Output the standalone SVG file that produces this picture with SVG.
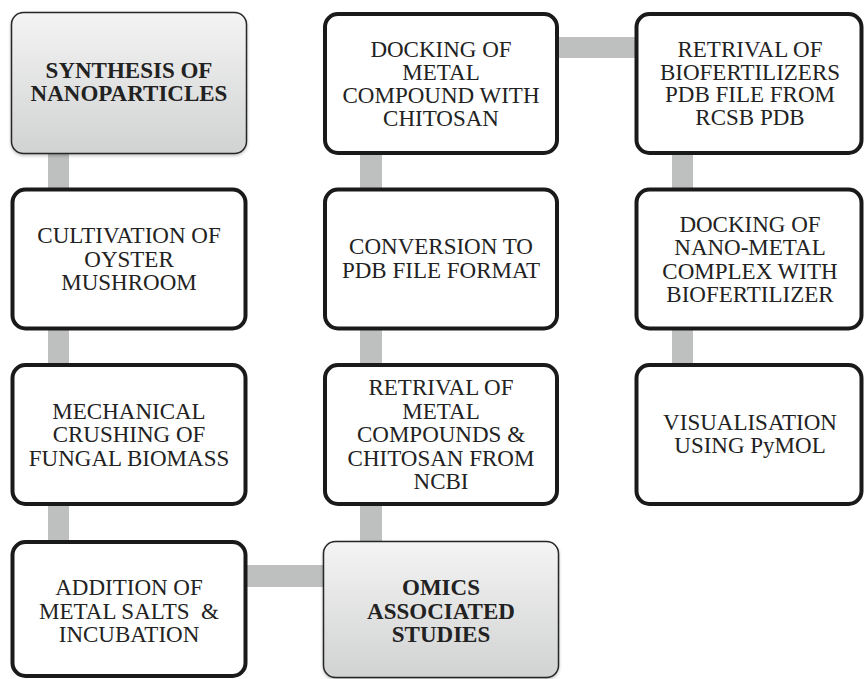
<svg xmlns="http://www.w3.org/2000/svg" width="865" height="679" viewBox="0 0 865 679">
<defs>
<linearGradient id="g" x1="0" y1="0" x2="0" y2="1">
<stop offset="0" stop-color="#f4f4f4"/>
<stop offset="1" stop-color="#d1d2d2"/>
</linearGradient>
<filter id="sh" x="-5%" y="-5%" width="110%" height="110%">
<feDropShadow dx="0" dy="1.5" stdDeviation="1.5" flood-color="#000" flood-opacity="0.25"/>
</filter>
<style>
.conn{fill:#bebfbf}
.box{fill:#fff;stroke:#1a1a1a;stroke-width:4}
.gbox{fill:url(#g);stroke:#262626;stroke-width:1.5;filter:url(#sh)}
.t{font-size:23px;fill:#222;text-anchor:middle}
.b{font-weight:bold}
</style>
</defs>
<rect width="865" height="679" fill="#fff"/>
<g id="connectors">
<rect class="conn" x="48" y="150" width="21" height="42"/>
<rect class="conn" x="48" y="326" width="21" height="40"/>
<rect class="conn" x="48" y="502" width="21" height="42"/>
<rect class="conn" x="243" y="565" width="84" height="22"/>
<rect class="conn" x="360" y="151" width="22" height="41"/>
<rect class="conn" x="360" y="326" width="22" height="41"/>
<rect class="conn" x="360" y="502" width="22" height="42"/>
<rect class="conn" x="555" y="37" width="84" height="21"/>
<rect class="conn" x="672" y="150" width="21" height="42"/>
<rect class="conn" x="672" y="326" width="21" height="41"/>
</g>
<g class="t" font-family="Liberation Serif, serif">
<g id="synthesis">
<rect class="gbox" x="11.5" y="12.5" width="235" height="141" rx="12"/>
<text class="b" x="129" y="78">SYNTHESIS OF</text>
<text class="b" x="129" y="101">NANOPARTICLES</text>
</g>
<g id="cultivation">
<rect class="box" x="12.5" y="189.5" width="233" height="139" rx="13"/>
<text x="129" y="243">CULTIVATION OF</text>
<text x="129" y="266.5">OYSTER</text>
<text x="129" y="290">MUSHROOM</text>
</g>
<g id="mechanical">
<rect class="box" x="12.5" y="365" width="233" height="139" rx="13"/>
<text x="129" y="418.5">MECHANICAL</text>
<text x="129" y="442">CRUSHING OF</text>
<text x="129" y="465.5">FUNGAL BIOMASS</text>
</g>
<g id="addition">
<rect class="box" x="12.5" y="542" width="233" height="134" rx="13"/>
<text x="129" y="595">ADDITION OF</text>
<text x="129" y="618.5" xml:space="preserve">METAL SALTS  &amp;</text>
<text x="129" y="642">INCUBATION</text>
</g>
<g id="omics">
<rect class="gbox" x="323.5" y="541.5" width="235" height="136" rx="12"/>
<text class="b" x="441" y="595">OMICS</text>
<text class="b" x="441" y="618.5">ASSOCIATED</text>
<text class="b" x="441" y="642">STUDIES</text>
</g>
<g id="retrival-metal">
<rect class="box" x="325" y="365" width="232" height="139" rx="13"/>
<text x="441" y="395">RETRIVAL OF</text>
<text x="441" y="418.5">METAL</text>
<text x="441" y="442">COMPOUNDS &amp;</text>
<text x="441" y="465.5">CHITOSAN FROM</text>
<text x="441" y="489">NCBI</text>
</g>
<g id="conversion">
<rect class="box" x="325" y="189.5" width="232" height="139" rx="13"/>
<text x="441" y="254">CONVERSION TO</text>
<text x="441" y="277.5">PDB FILE FORMAT</text>
</g>
<g id="docking-metal">
<rect class="box" x="325" y="14" width="232" height="139" rx="13"/>
<text x="441" y="56.5">DOCKING OF</text>
<text x="441" y="79.8">METAL</text>
<text x="441" y="103.1">COMPOUND WITH</text>
<text x="441" y="126.4">CHITOSAN</text>
</g>
<g id="retrival-biofert">
<rect class="box" x="636.5" y="14" width="225" height="139" rx="13"/>
<text x="750" y="57">RETRIVAL OF</text>
<text x="750" y="79.7">BIOFERTILIZERS</text>
<text x="750" y="102.3">PDB FILE FROM</text>
<text x="750" y="125">RCSB PDB</text>
</g>
<g id="docking-nano">
<rect class="box" x="636.5" y="189.5" width="225" height="139" rx="13"/>
<text x="750" y="232">DOCKING OF</text>
<text x="750" y="255.3">NANO-METAL</text>
<text x="750" y="278.7">COMPLEX WITH</text>
<text x="750" y="302">BIOFERTILIZER</text>
</g>
<g id="visualisation">
<rect class="box" x="636.5" y="365" width="225" height="139" rx="13"/>
<text x="750" y="430">VISUALISATION</text>
<text x="750" y="453">USING PyMOL</text>
</g>
</g>
</svg>
